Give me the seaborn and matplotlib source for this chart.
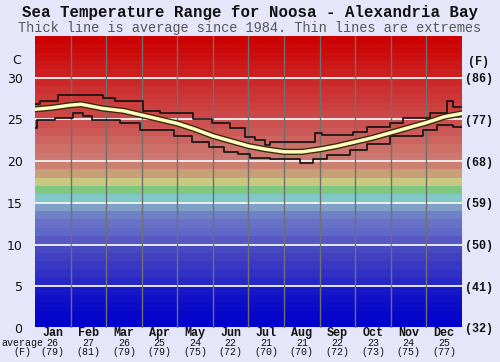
import numpy as np
import pandas as pd
import seaborn as sns
import matplotlib.pyplot as plt

# monthly summary shown under the axis
months = ['Jan', 'Feb', 'Mar', 'Apr', 'May', 'Jun', 'Jul', 'Aug', 'Sep', 'Oct', 'Nov', 'Dec']
avg_c = [26, 27, 26, 25, 24, 22, 21, 21, 22, 23, 24, 25]
avg_f = [79, 81, 79, 79, 75, 72, 70, 70, 72, 73, 75, 77]

# average line (x in months from 1 Jan)
avg_x = [0, 0.5, 1.0, 1.3, 1.9, 2.5, 3.0, 3.5, 4.0, 4.5, 5.0, 5.5, 6.0, 6.5, 7.0, 7.5,
         8.0, 8.5, 9.0, 9.5, 10.0, 10.5, 11.0, 11.5, 12.0]
avg_t = [26.2, 26.4, 26.7, 26.8, 26.3, 26.0, 25.5, 25.0, 24.5, 23.8, 23.0, 22.4, 21.8,
         21.4, 21.1, 21.1, 21.4, 21.8, 22.3, 22.8, 23.4, 24.0, 24.6, 25.3, 25.7]

# extremes (step lines)
max_x = [0, 0.14, 0.65, 1.91, 2.25, 3.04, 3.51, 4.44, 4.97, 5.48, 5.90, 6.18, 6.46, 6.60,
         7.87, 8.07, 8.94, 9.33, 9.98, 10.34, 11.10, 11.58, 11.75, 12.0]
max_t = [26.8, 27.2, 27.9, 27.5, 27.2, 26.0, 25.8, 25.0, 24.5, 23.9, 22.9, 22.5, 21.9, 22.3,
         23.3, 23.1, 23.5, 24.1, 24.6, 25.2, 25.8, 27.2, 26.5, 26.5]
min_x = [0, 0.06, 0.56, 1.07, 1.35, 1.6, 2.39, 2.95, 3.9, 4.4, 4.9, 5.3, 5.7, 6.04, 6.6,
         7.45, 7.8, 8.2, 8.85, 9.33, 9.98, 10.9, 11.3, 11.75, 12.0]
min_t = [24.0, 24.9, 25.2, 25.8, 25.4, 24.9, 24.6, 23.7, 23.0, 22.3, 21.7, 21.1, 20.8, 20.4,
         20.2, 19.8, 20.3, 20.7, 21.3, 22.1, 23.0, 23.7, 24.3, 24.1, 24.1]

# 1 degree background bands, 0..35 C
band_rgb = [(0, 0, 204), (6, 6, 204), (12, 12, 200), (16, 16, 200), (24, 24, 200),
            (40, 40, 196), (48, 48, 196), (56, 56, 196), (64, 64, 192), (72, 72, 192),
            (88, 88, 196), (96, 104, 200), (104, 112, 200), (112, 128, 200), (128, 160, 200),
            (128, 200, 200), (128, 200, 128), (200, 200, 128), (200, 160, 120), (204, 128, 112),
            (204, 120, 112), (204, 112, 104), (204, 100, 96), (204, 88, 88), (204, 80, 80),
            (204, 72, 72), (204, 64, 64), (204, 56, 56), (204, 48, 48), (204, 40, 40),
            (204, 32, 32), (204, 24, 24), (204, 16, 16), (204, 8, 8), (204, 0, 0)]

bg = '#e6e6fa'
sns.set_theme(style='white')
fig = plt.figure(figsize=(5, 3.62), dpi=100, facecolor=bg)
ax = fig.add_axes([0.07, 0.094, 0.854, 0.807])

for i, c in enumerate(band_rgb):
    ax.axhspan(i, i + 1, color=np.array(c) / 255, lw=0, zorder=0)
for t in range(0, 35, 5):
    ax.axhline(t, color='#f4f4f4', lw=1.3, zorder=1)
for m in range(1, 12):
    ax.axvline(m, color='#707070', lw=1, zorder=1)

df_max = pd.DataFrame({'x': max_x, 't': max_t})
df_min = pd.DataFrame({'x': min_x, 't': min_t})
df_avg = pd.DataFrame({'x': avg_x, 't': avg_t})
sns.lineplot(data=df_max, x='x', y='t', ax=ax, color='#111111', lw=1.2, drawstyle='steps-post', zorder=3)
sns.lineplot(data=df_min, x='x', y='t', ax=ax, color='#111111', lw=1.2, drawstyle='steps-post', zorder=3)
sns.lineplot(data=df_avg, x='x', y='t', ax=ax, color='#3a2a10', lw=4.5, zorder=4)
sns.lineplot(data=df_avg, x='x', y='t', ax=ax, color='#ffffc0', lw=2.5, zorder=5)

ax.set_xlim(0, 12)
ax.set_ylim(0, 35)
ax.set_xlabel('')
ax.set_ylabel('')
ax.set_xticks([])
ax.set_yticks(range(0, 35, 5))
ax.tick_params(axis='y', length=0, pad=9, labelsize=9, labelcolor='#111111')
for s in ax.spines.values():
    s.set_visible(False)

ax2 = ax.twinx()
ax2.set_ylim(0, 35)
ax2.set_yticks(range(0, 35, 5))
ax2.set_yticklabels([f'({round(t * 9 / 5 + 32)})' for t in range(0, 35, 5)],
                    family='Liberation Mono', weight='bold')
ax2.tick_params(axis='y', length=0, pad=2, labelsize=8.5, labelcolor='#111111')
ax2.grid(False)
for s in ax2.spines.values():
    s.set_visible(False)

mono = 'Liberation Mono'
for i, m in enumerate(months):
    ax.text(i + 0.5, -0.6, m, ha='center', va='center', family=mono, weight='bold',
            fontsize=8.5, color='#111111', clip_on=False)
    ax.text(i + 0.5, -1.85, str(avg_c[i]), ha='center', va='center', family=mono,
            fontsize=7.2, color='#111111', clip_on=False)
    ax.text(i + 0.5, -2.92, f'({avg_f[i]})', ha='center', va='center', family=mono,
            fontsize=7.2, color='#111111', clip_on=False)

fig.text(0.044, 0.052, 'average', ha='center', va='center', family=mono, fontsize=7.2, color='#111111')
fig.text(0.044, 0.027, '(F)', ha='center', va='center', family=mono, fontsize=7.2, color='#111111')
fig.text(0.034, 0.832, 'C', ha='center', va='center', fontsize=9, color='#111111')
fig.text(0.956, 0.829, '(F)', ha='center', va='center', family=mono, weight='bold',
         fontsize=8.5, color='#111111')

fig.text(0.5, 0.965, 'Sea Temperature Range for Noosa - Alexandria Bay', ha='center', va='center',
         family=mono, weight='bold', fontsize=11.3, color='#111111')
fig.text(0.5, 0.922, 'Thick line is average since 1984. Thin lines are extremes', ha='center',
         va='center', family=mono, fontsize=9.8, color='#555555')

fig.savefig('out.png', dpi=100, facecolor=bg)
